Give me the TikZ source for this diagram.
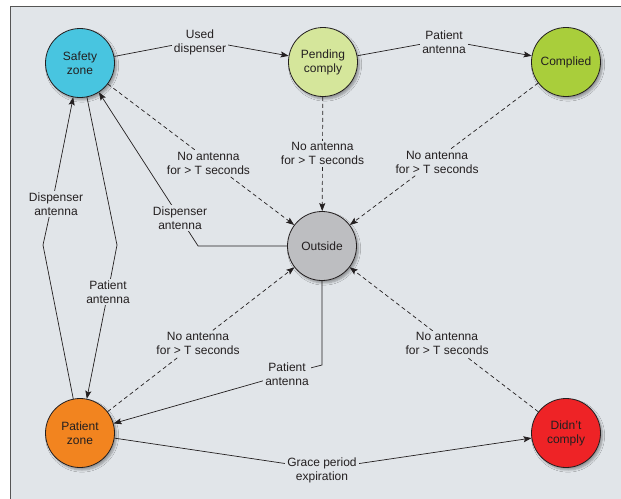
\documentclass[tikz,border=0pt]{standalone}
\usepackage{fontspec}
\setmainfont{Liberation Sans}
\usetikzlibrary{arrows.meta,shadows.blur}
\definecolor{panel}{HTML}{E1E5E9}
\definecolor{frame}{HTML}{555555}
\definecolor{txt}{HTML}{231F20}
\definecolor{csafety}{HTML}{48C5E0}
\definecolor{cpending}{HTML}{D5E69B}
\definecolor{ccomplied}{HTML}{A9CE3B}
\definecolor{coutside}{HTML}{BDBEC1}
\definecolor{cpatient}{HTML}{F2841F}
\definecolor{cdidnt}{HTML}{EE2326}
\begin{document}
\begin{tikzpicture}[x=1pt,y=-1pt,
  state/.style={circle,draw=txt,line width=0.8pt,minimum size=69pt,inner sep=0pt,
    align=center,font=\fontsize{12}{14}\selectfont,text=txt,
    blur shadow={shadow xshift=2pt,shadow yshift=-2.5pt,shadow blur steps=6,shadow opacity=35}},
  lbl/.style={fill=panel,inner sep=2pt,align=center,font=\fontsize{12}{14}\selectfont,text=txt},
  conn/.style={draw=txt,line width=0.7pt,-{Stealth[length=8pt,width=6pt,inset=1.5pt]}},
  dconn/.style={conn,dash pattern=on 4pt off 3pt}]
\useasboundingbox (0,0) rectangle (621,498);
\clip (0,0) rectangle (621,498);
\fill[white] (0,0) rectangle (621,498);
\draw[fill=panel,draw=frame,line width=1pt] (10.5,6.5) rectangle (640,520);

\node[state,fill=csafety]   (safety)   at (80,63)   {Safety\\zone};
\node[state,fill=cpending]  (pending)  at (323,62)  {Pending\\comply};
\node[state,fill=ccomplied] (complied) at (566,62)  {Complied};
\node[state,fill=coutside]  (outside)  at (322,246) {Outside};
\node[state,fill=cpatient]  (patient)  at (80,433)  {Patient\\zone};
\node[state,fill=cdidnt]    (didnt)    at (566,433) {Didn’t\\comply};

% solid connectors
\draw[conn] (safety) -- (200,40) node[lbl,yshift=-2.5pt]{Used\\dispenser} -- (pending);
\draw[conn] (pending) -- (444,40) node[lbl,yshift=-2pt]{Patient\\antenna} -- (complied);
\draw[conn] (outside.west) -- ++(-89,0) -- (180,218) node[lbl]{Dispenser\\antenna} -- (safety);
\draw[conn] (patient) -- (43,245) -- (52,204) node[lbl,xshift=4pt]{Dispenser\\antenna} -- (safety);
\draw[conn] (safety) -- (117,245) -- (108,292) node[lbl]{Patient\\antenna} -- (patient);
\draw[conn] (outside.south) -- (322,365) -- (287,374) node[lbl]{Patient\\antenna} -- (patient);
\draw[conn] (patient) -- (322,469) node[lbl,yshift=-1pt]{Grace period\\expiration} -- (didnt);

% dashed connectors
\draw[dconn] (safety) -- node[lbl,pos=0.54,yshift=-3pt]{No antenna\\for > T seconds} (outside);
\draw[dconn] (pending) -- node[lbl,pos=0.49,yshift=-1pt]{No antenna\\for > T seconds} (outside);
\draw[dconn] (complied) -- node[lbl,pos=0.537,yshift=-3pt]{No antenna\\for > T seconds} (outside);
\draw[dconn] (patient) -- node[lbl,pos=0.484,yshift=-2pt]{No antenna\\for > T seconds} (outside);
\draw[dconn] (didnt) -- node[lbl,pos=0.484,yshift=-2pt]{No antenna\\for > T seconds} (outside);
\end{tikzpicture}
\end{document}
